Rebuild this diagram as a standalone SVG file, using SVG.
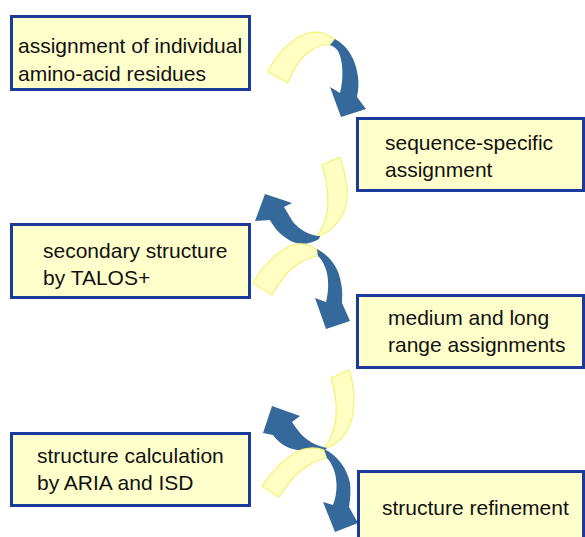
<svg xmlns="http://www.w3.org/2000/svg" width="585" height="537" viewBox="0 0 585 537">
  <style>
    .box rect { fill: #FFFFCC; stroke: #1A3A9C; stroke-width: 3; }
    .box text { font-family: "Liberation Sans", Arial, sans-serif; font-size: 21px; fill: #111; }
    .band { fill: #FFFFC4; stroke: #F5F070; stroke-width: 1.2; stroke-linejoin: round; }
    .arrow { fill: #35689B; stroke: none; }
  </style>
  <rect width="585" height="537" fill="#FFFFFF"/>

  <!-- connectors: curved two-tone arrows between the steps -->
  <g id="connectors">
    <!-- step 1 to step 2 -->
    <path class="band" d="M268,72 C276,54 292,38 308,33 C320,30 330,35 335,40 L330,45 C318,43 304,54 298,63 C294,70 290,77 288,83 Z"/>
    <path class="arrow" d="M335,39 C348,46 356,60 358,77 C359,86 358,92 357,97 L366,109 L341,117 L330,87 L340,93 C344,78 343,60 338,51 C336,48 333,46 330,45 Z"/>

    <!-- steps 2 to 3 and 3 to 4 -->
    <path class="band" d="M322,165 L340,157 C345,172 348,187 347,200 C345,216 334,230 320,236 L318,235 C324,226 328,215 328,203 C328,190 326,177 322,165 Z"/>
    <path class="arrow" d="M320,236 C310,236 299,229 293,222 C290,217 287,212 284,207 L292,203 L265,194 L255,221 L270,220 C274,228 282,237 293,242 C301,245 311,244 319,239 Z"/>
    <path class="band" d="M253,283 C260,270 275,253 290,246 C300,242 310,244 317,250 L318,256 C305,258 292,266 284,277 C279,283 275,289 272,295 Z"/>
    <path class="arrow" d="M317,249 C330,256 339,268 341,283 C343,292 342,298 342,303 L350,321 L326,329 L315,298 L326,302 C329,290 329,276 325,267 C323,262 321,259 318,256 Z"/>

    <!-- steps 4 to 5 and 5 to 6 -->
    <path class="band" d="M331,378 L349,370 C354,385 355,400 353,413 C351,428 342,442 327,448 L325,447 C331,438 335,428 336,417 C337,404 335,390 331,378 Z"/>
    <path class="arrow" d="M327,448 C316,446 306,440 300,433 C297,429 294,425 292,422 L300,416 L272,406 L263,433 L273,435 C277,441 285,448 297,450 C307,451 316,450 325,450 Z"/>
    <path class="band" d="M262,486 C270,474 283,460 296,452 C305,447 316,447 324,450 L327,458 C315,460 302,468 294,477 C288,484 283,490 279,497 Z"/>
    <path class="arrow" d="M324,449 C337,455 347,468 350,483 C351,492 350,500 349,507 L358,523 L335,532 L323,502 L333,505 C337,495 338,482 334,470 C332,465 330,461 327,458 Z"/>
  </g>

  <g id="step1" class="box">
    <rect x="11.5" y="16.5" width="238" height="73"/>
    <text x="18" y="53">assignment of individual</text>
    <text x="18" y="81">amino-acid residues</text>
  </g>

  <g id="step2" class="box">
    <rect x="357.5" y="118.5" width="226" height="72"/>
    <text x="385" y="150">sequence-specific</text>
    <text x="385" y="177">assignment</text>
  </g>

  <g id="step3" class="box">
    <rect x="11.5" y="224.5" width="238" height="73"/>
    <text x="43" y="258">secondary structure</text>
    <text x="43" y="285">by TALOS+</text>
  </g>

  <g id="step4" class="box">
    <rect x="357.5" y="295.5" width="226" height="72"/>
    <text x="388" y="325">medium and long</text>
    <text x="388" y="352">range assignments</text>
  </g>

  <g id="step5" class="box">
    <rect x="11.5" y="433.5" width="238" height="72"/>
    <text x="37" y="463">structure calculation</text>
    <text x="37" y="490">by ARIA and ISD</text>
  </g>

  <g id="step6" class="box">
    <rect x="358.5" y="471.5" width="225" height="80"/>
    <text x="382" y="515">structure refinement</text>
  </g>
</svg>
